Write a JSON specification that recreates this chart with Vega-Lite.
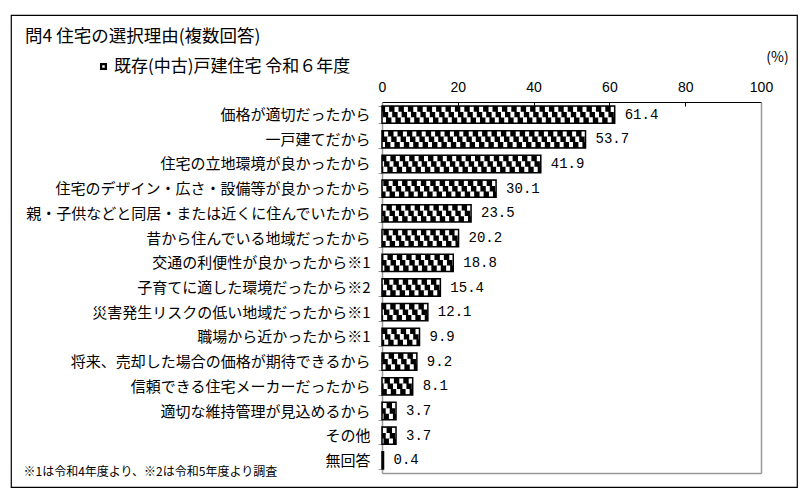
{
  "$schema": "https://vega.github.io/schema/vega-lite/v6.json",
  "width": 786,
  "height": 472,
  "autosize": {"type": "none"},
  "padding": {"left": 11, "top": 15, "right": 9, "bottom": 9},
  "background": "white",
  "config": {
    "view": {"stroke": "black", "strokeWidth": 1.2},
    "font": "Noto Sans CJK JP"
  },
  "title": {
    "text": "問4 住宅の選択理由(複数回答)",
    "anchor": "start",
    "frame": "group",
    "offset": -37,
    "dx": 14,
    "fontSize": 17.5,
    "fontWeight": "normal",
    "font": "Noto Sans CJK JP",
    "color": "black"
  },
  "data": {
    "values": [
      {"reason": "価格が適切だったから", "value": 61.4},
      {"reason": "一戸建てだから", "value": 53.7},
      {"reason": "住宅の立地環境が良かったから", "value": 41.9},
      {"reason": "住宅のデザイン・広さ・設備等が良かったから", "value": 30.1},
      {"reason": "親・子供などと同居・または近くに住んでいたから", "value": 23.5},
      {"reason": "昔から住んでいる地域だったから", "value": 20.2},
      {"reason": "交通の利便性が良かったから※1", "value": 18.8},
      {"reason": "子育てに適した環境だったから※2", "value": 15.4},
      {"reason": "災害発生リスクの低い地域だったから※1", "value": 12.1},
      {"reason": "職場から近かったから※1", "value": 9.9},
      {"reason": "将来、売却した場合の価格が期待できるから", "value": 9.2},
      {"reason": "信頼できる住宅メーカーだったから", "value": 8.1},
      {"reason": "適切な維持管理が見込めるから", "value": 3.7},
      {"reason": "その他", "value": 3.7},
      {"reason": "無回答", "value": 0.4}
    ]
  },
  "layer": [
    {
      "mark": {"type": "bar"},
      "encoding": {
        "y": {
          "field": "reason", "type": "nominal", "sort": null,
          "scale": {"range": [87, 458], "paddingInner": 0.3, "paddingOuter": 0.16},
          "axis": {
            "orient": "left", "offset": -371,
            "domainColor": "#999", "domainWidth": 1.5,
            "tickColor": "#999", "tickSize": 4, "tickBand": "extent",
            "labelPadding": 8, "labelFont": "Noto Sans CJK JP", "labelFontSize": 15,
            "labelColor": "black", "labelLimit": 500, "labelOverlap": false,
            "grid": false,
            "title": "※1は令和4年度より、※2は令和5年度より調査",
            "titleAngle": 0, "titleAlign": "left", "titleBaseline": "middle",
            "titleX": -359, "titleY": 456,
            "titleFont": "Noto Sans CJK JP", "titleFontSize": 12, "titleFontWeight": "normal", "titleColor": "black"
          }
        },
        "x": {
          "field": "value", "type": "quantitative",
          "scale": {"domain": [0, 100], "range": [371, 750]},
          "axis": {
            "orient": "top", "offset": -87,
            "values": [0, 20, 40, 60, 80, 100],
            "domainColor": "black", "domainWidth": 1.2,
            "tickColor": "black", "tickSize": -4,
            "labelPadding": 12, "labelFont": "Liberation Sans", "labelFontSize": 14,
            "labelColor": "black", "labelFlush": false, "labelOverlap": false,
            "grid": false,
            "title": "(%)", "titleX": 766, "titleY": -45, "titleAngle": 0,
            "titleAlign": "center", "titleBaseline": "middle",
            "titleFont": "Noto Sans CJK JP", "titleFontSize": 14, "titleFontWeight": "normal", "titleColor": "black"
          }
        },
        "color": {
          "datum": "既存(中古)戸建住宅 令和６年度",
          "scale": {"range": ["black"]},
          "legend": {
            "orient": "none", "legendX": 84, "legendY": 43, "title": null,
            "labelFont": "Noto Sans CJK JP", "labelFontSize": 17, "labelColor": "black", "labelLimit": 600,
            "symbolType": "M-1,-1H1V1H-1Z M-0.35,-0.35V0.35H0.35V-0.35Z",
            "symbolSize": 50, "symbolStrokeWidth": 0,
            "labelOffset": 2, "padding": 0
          }
        }
      }
    },
    {
      "mark": {"type": "rule", "strokeDash": [4, 5.4], "strokeDashOffset": 0, "strokeWidth": 5.6, "color": "white", "strokeCap": "butt", "yOffset": -5.5},
      "encoding": {
        "y": {"field": "reason", "type": "nominal", "sort": null, "axis": null},
        "x": {"field": "value", "type": "quantitative", "axis": null},
        "x2": {"datum": 0}
      }
    },
    {
      "mark": {"type": "rule", "strokeDash": [4, 5.4], "strokeDashOffset": 3.1, "strokeWidth": 5.6, "color": "white", "strokeCap": "butt"},
      "encoding": {
        "y": {"field": "reason", "type": "nominal", "sort": null, "axis": null},
        "x": {"field": "value", "type": "quantitative", "axis": null},
        "x2": {"datum": 0}
      }
    },
    {
      "mark": {"type": "rule", "strokeDash": [4, 5.4], "strokeDashOffset": 6.3, "strokeWidth": 5.6, "color": "white", "strokeCap": "butt", "yOffset": 5.5},
      "encoding": {
        "y": {"field": "reason", "type": "nominal", "sort": null, "axis": null},
        "x": {"field": "value", "type": "quantitative", "axis": null},
        "x2": {"datum": 0}
      }
    },
    {
      "mark": {"type": "bar", "filled": false, "stroke": "black", "strokeWidth": 1.5},
      "encoding": {
        "y": {
          "field": "reason", "type": "nominal", "sort": null,
          "axis": {"orient": "right", "offset": -36, "domainColor": "#999", "domainWidth": 1.5, "ticks": false, "labels": false, "title": null, "grid": false}
        },
        "x": {
          "field": "value", "type": "quantitative",
          "axis": {"orient": "bottom", "offset": -14, "domainColor": "#999", "domainWidth": 1.5, "ticks": false, "labels": false, "title": null, "grid": false}
        }
      }
    },
    {
      "mark": {"type": "text", "align": "left", "baseline": "middle", "dx": 10, "font": "Liberation Mono", "fontSize": 14, "color": "black"},
      "encoding": {
        "y": {"field": "reason", "type": "nominal", "sort": null, "axis": null},
        "x": {"field": "value", "type": "quantitative", "axis": null},
        "text": {"field": "value", "type": "quantitative", "format": ".1f"}
      }
    }
  ],
  "resolve": {"axis": {"x": "independent", "y": "independent"}}
}
